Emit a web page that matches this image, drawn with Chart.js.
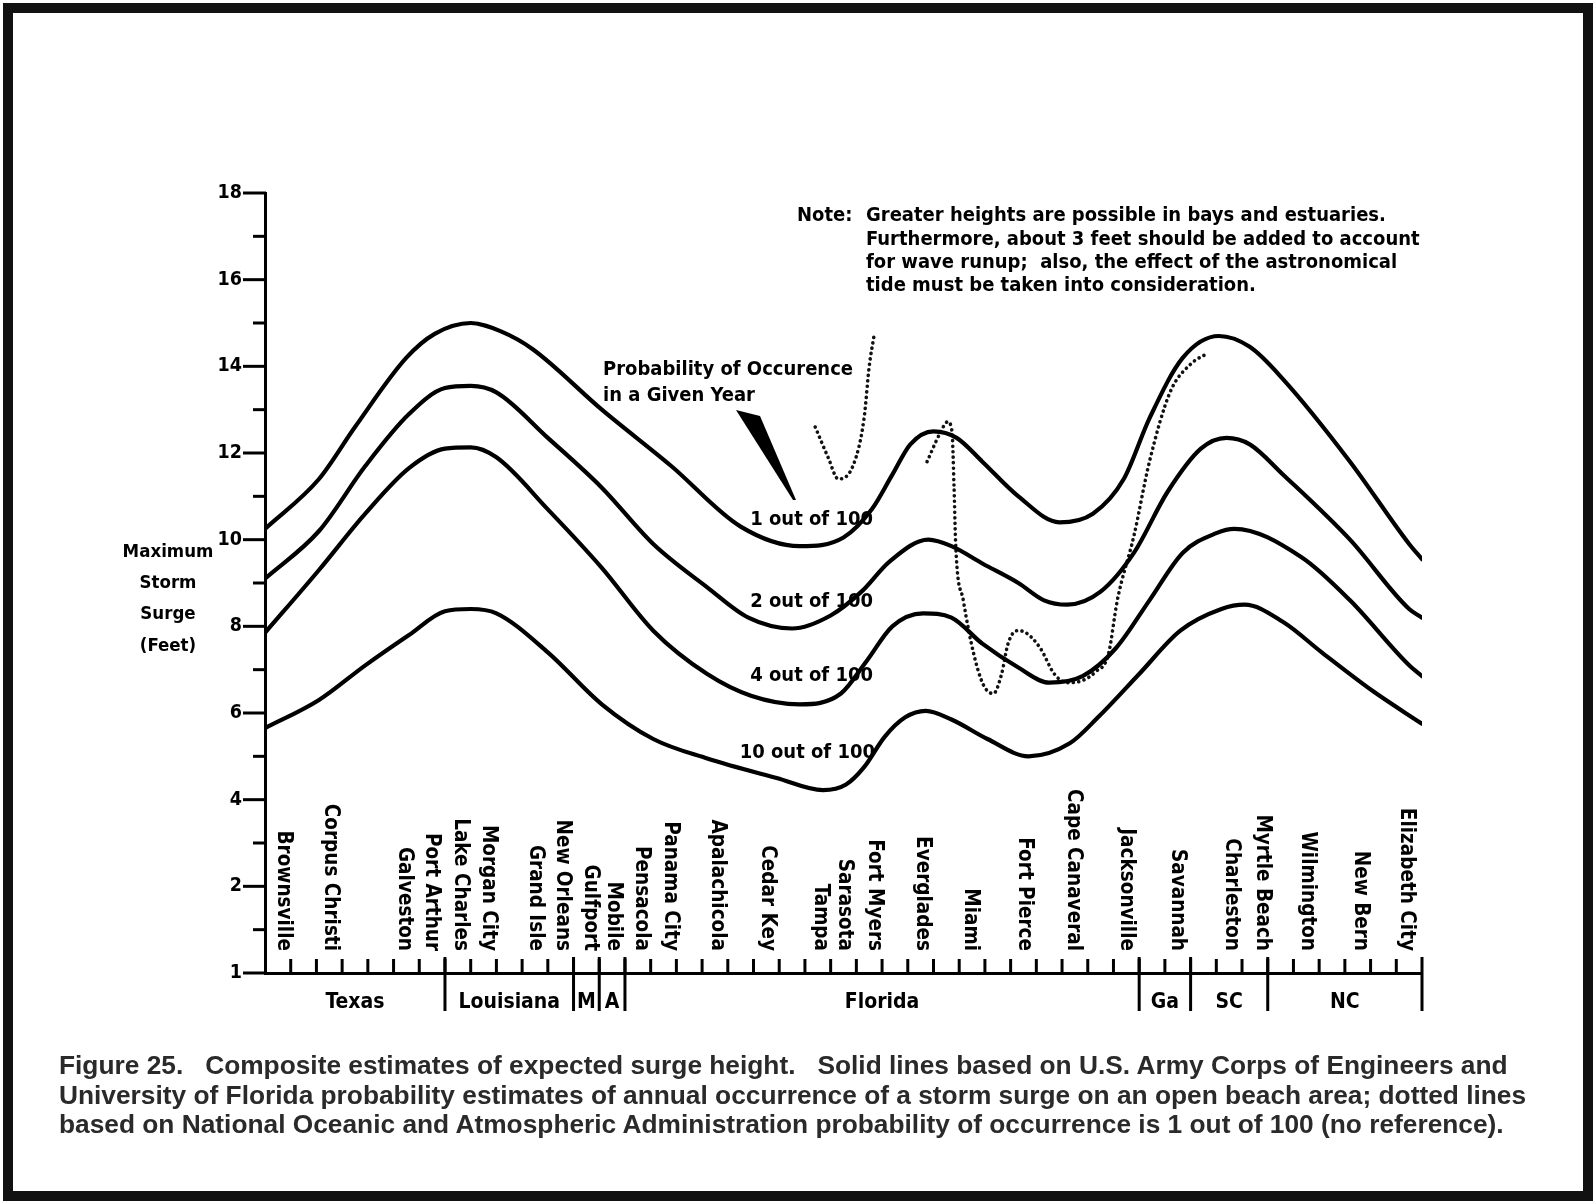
<!DOCTYPE html>
<html><head><meta charset="utf-8">
<script src="https://cdn.jsdelivr.net/npm/chart.js@4.4.1/dist/chart.umd.min.js"></script>
<style>
html,body{margin:0;padding:0;background:#fff;}
#wrap{position:relative;width:1593px;height:1201px;overflow:hidden;background:#fff;}
#frame{position:absolute;left:3px;top:3px;right:0;bottom:0;border:10px solid #111;pointer-events:none;}
#c{position:absolute;left:0;top:0;}
#caption{position:absolute;left:59px;top:1051px;font:bold 26.3px "Liberation Sans",Arial,sans-serif;color:#2a2a2a;line-height:29.5px;white-space:pre;}
</style></head>
<body><div id="wrap"><canvas id="c" width="1593" height="1201"></canvas>
<div id="caption">Figure 25.   Composite estimates of expected surge height.   Solid lines based on U.S. Army Corps of Engineers and
University of Florida probability estimates of annual occurrence of a storm surge on an open beach area; dotted lines
based on National Oceanic and Atmospheric Administration probability of occurrence is 1 out of 100 (no reference).</div>
<div id="frame"></div></div>
<script>
// ---- data ----
const cities = ['Brownsville','Corpus Christi','Galveston','Port Arthur','Lake Charles','Morgan City','Grand Isle','New Orleans','Gulfport','Mobile','Pensacola','Panama City','Apalachicola','Cedar Key','Tampa','Sarasota','Fort Myers','Everglades','Miami','Fort Pierce','Cape Canaveral','Jacksonville','Savannah','Charleston','Myrtle Beach','Wilmington','New Bern','Elizabeth City'];
const cityPos = [0.7, 2.55, 5.4, 6.45, 7.6, 8.7, 10.5, 11.55, 12.65, 13.55, 14.65, 15.75, 17.6, 19.55, 21.6, 22.55, 23.7, 25.55, 27.45, 29.55, 31.45, 33.5, 35.5, 37.6, 38.8, 40.55, 42.6, 44.4];
const states = ['Texas','Louisiana','M','A','Florida','Ga','SC','NC'];
const stateBounds = [0, 7, 12, 13, 14, 34, 36, 39, 45];

const xOne = [0, 2.1, 3.5, 5.5, 6.6, 8.0, 9.2, 10.4, 13.1, 15.8, 18.5, 20.8, 22.5, 23.6, 24.4, 25.1, 26.0, 26.9, 27.9, 29.3, 30.9, 32.2, 33.4, 34.4, 35.7, 37.1, 38.3, 39.6, 42.2, 44.5, 45];
const yOne = [10.25, 11.4, 12.6, 14.2, 14.75, 15.0, 14.8, 14.4, 13.0, 11.7, 10.3, 9.85, 10.05, 10.7, 11.5, 12.2, 12.5, 12.35, 11.8, 11.0, 10.4, 10.6, 11.4, 12.8, 14.2, 14.7, 14.45, 13.7, 11.8, 9.9, 9.55];

const xTwo = [0, 2.1, 3.9, 5.6, 7.0, 8.0, 9.0, 11.0, 13.1, 15.1, 17.2, 18.8, 20.5, 22.0, 23.2, 24.3, 25.8, 26.7, 27.9, 29.3, 30.3, 31.2, 32.5, 33.8, 35.1, 36.4, 37.4, 38.3, 39.6, 42.2, 44.5, 45];
const yTwo = [9.1, 10.2, 11.7, 12.9, 13.5, 13.55, 13.4, 12.35, 11.2, 9.9, 8.9, 8.2, 7.95, 8.25, 8.8, 9.5, 10.0, 9.85, 9.45, 9.0, 8.6, 8.5, 8.8, 9.7, 11.1, 12.1, 12.35, 12.2, 11.5, 10.0, 8.4, 8.2];

const xFour = [0, 2.1, 3.9, 5.6, 7.0, 8.0, 9.0, 11.0, 13.1, 15.1, 17.2, 18.9, 20.8, 22.4, 23.4, 24.4, 25.6, 26.7, 27.9, 29.3, 30.5, 31.8, 33.1, 34.4, 35.7, 37.0, 37.7, 40.3, 42.2, 44.5, 45];
const yFour = [7.85, 9.3, 10.6, 11.65, 12.1, 12.13, 11.9, 10.7, 9.35, 7.9, 6.9, 6.4, 6.2, 6.45, 7.2, 8.0, 8.3, 8.2, 7.6, 7.05, 6.7, 6.85, 7.5, 8.6, 9.7, 10.15, 10.25, 9.6, 8.6, 7.1, 6.85];

const xTen = [0, 2.1, 3.9, 5.6, 7.0, 8.0, 9.0, 11.0, 13.1, 15.1, 17.2, 19.9, 21.7, 22.6, 23.3, 24.1, 24.9, 25.7, 26.7, 28.1, 29.7, 31.3, 32.4, 34.0, 35.6, 37.2, 38.1, 39.6, 41.1, 43.1, 45];
const yTen = [5.65, 6.3, 7.1, 7.8, 8.35, 8.4, 8.3, 7.4, 6.2, 5.4, 4.95, 4.5, 4.22, 4.35, 4.75, 5.45, 5.9, 6.05, 5.85, 5.4, 5.0, 5.3, 5.9, 6.9, 7.9, 8.4, 8.5, 8.1, 7.4, 6.5, 5.75];

const xNoaaA = [21.4, 21.9, 22.3, 22.9, 23.3, 23.5, 23.7];
const yNoaaA = [12.6, 11.9, 11.4, 11.75, 12.8, 14.0, 14.75];
const xNoaaB = [25.75, 26.25, 26.55, 26.72, 26.8, 26.87, 27.16, 27.55, 27.94, 28.33, 28.65, 28.9, 29.25, 29.6, 30.15, 30.7, 31.2, 31.8, 32.3, 32.8, 33.15, 33.8, 34.4, 35.2, 36.0, 36.65];
const yNoaaB = [11.8, 12.45, 12.72, 12.5, 11.2, 9.8, 8.6, 7.4, 6.65, 6.45, 6.9, 7.6, 7.9, 7.85, 7.5, 6.9, 6.7, 6.75, 6.95, 7.35, 8.6, 10.1, 11.8, 13.4, 14.05, 14.3];

const curveLabels = ['1 out of 100', '2 out of 100', '4 out of 100', '10 out of 100'];
const yTickLabelFor = v => v === 0 ? '1' : (v % 2 === 0 ? String(v) : '');

// ---- drawing ----
const FONT = '"DejaVu Sans Condensed","Liberation Sans Narrow","DejaVu Sans",sans-serif';
const pts = (xs, ys) => xs.map((v, i) => ({x: v, y: ys[i]}));
const solid = (label, xs, ys) => ({label, data: pts(xs, ys), borderColor: '#000', borderWidth: 4.2, pointRadius: 0, cubicInterpolationMode: 'monotone', fill: false, borderJoinStyle: 'round', borderCapStyle: 'round'});
const dotted = (label, xs, ys) => ({label, data: pts(xs, ys), borderColor: '#111', borderWidth: 3.6, pointRadius: 0, cubicInterpolationMode: 'monotone', fill: false, borderDash: [0.1, 5.4], borderCapStyle: 'round', borderJoinStyle: 'round'});

function seg(ctx, x1, y1, x2, y2) { ctx.beginPath(); ctx.moveTo(x1, y1); ctx.lineTo(x2, y2); ctx.stroke(); }

const decor = {
  id: 'decor',
  afterDraw(chart) {
    const {ctx, scales: {x, y}, chartArea: ca} = chart;
    const X = v => x.getPixelForValue(v), Y = v => y.getPixelForValue(v);
    ctx.save();
    ctx.strokeStyle = '#000'; ctx.fillStyle = '#000'; ctx.lineWidth = 3; ctx.lineCap = 'butt';
    // y ticks
    for (let v = 0; v <= 18; v++) {
      const len = yTickLabelFor(v) ? 22 : 12;
      seg(ctx, ca.left - len, Y(v), ca.left + 1, Y(v));
    }
    // x ticks (pointing up)
    for (let k = 1; k < 45; k++) seg(ctx, X(k), ca.bottom, X(k), ca.bottom - 14);
    // state separators
    for (let i = 1; i < stateBounds.length; i++) seg(ctx, X(stateBounds[i]), ca.bottom - 16, X(stateBounds[i]), ca.bottom + 38);
    // state names
    ctx.font = 'bold 21px ' + FONT; ctx.textAlign = 'center'; ctx.textBaseline = 'middle';
    for (let i = 0; i < states.length; i++) ctx.fillText(states[i], X((stateBounds[i] + stateBounds[i + 1]) / 2), ca.bottom + 30);
    // city names, rotated clockwise
    ctx.font = 'bold 20.5px ' + FONT; ctx.textAlign = 'right';
    cities.forEach((c, i) => {
      ctx.save(); ctx.translate(X(cityPos[i]), ca.bottom - 22); ctx.rotate(Math.PI / 2);
      ctx.fillText(c, 0, 0); ctx.restore();
    });
    // y axis title
    ctx.font = 'bold 18.5px ' + FONT; ctx.textAlign = 'center';
    ['Maximum', 'Storm', 'Surge', '(Feet)'].forEach((t, i) => ctx.fillText(t, 168, 552 + i * 31.3));
    // curve labels
    ctx.font = 'bold 20px ' + FONT; ctx.textAlign = 'right';
    const ly = [520, 602, 675.5, 753];
    curveLabels.forEach((t, i) => ctx.fillText(t, i === 3 ? 875 : 873, ly[i]));
    // probability text + wedge
    ctx.textAlign = 'left';
    ctx.fillText('Probability of Occurence', 603, 370);
    ctx.fillText('in a Given Year', 603, 396);
    ctx.beginPath(); ctx.moveTo(736, 410); ctx.lineTo(760, 416); ctx.lineTo(796, 500); ctx.lineTo(793, 500); ctx.closePath(); ctx.fill();
    // note
    ctx.font = 'bold 20px ' + FONT;
    ctx.fillText('Note:', 797, 216);
    ['Greater heights are possible in bays and estuaries.',
     'Furthermore, about 3 feet should be added to account',
     'for wave runup;  also, the effect of the astronomical',
     'tide must be taken into consideration.'].forEach((t, i) => ctx.fillText(t, 866, 216 + i * 23.4));
    ctx.restore();
  }
};

new Chart(document.getElementById('c'), {
  type: 'line',
  data: {datasets: [
    solid(curveLabels[0], xOne, yOne),
    solid(curveLabels[1], xTwo, yTwo),
    solid(curveLabels[2], xFour, yFour),
    solid(curveLabels[3], xTen, yTen),
    dotted('NOAA 1 out of 100 (a)', xNoaaA, yNoaaA),
    dotted('NOAA 1 out of 100 (b)', xNoaaB, yNoaaB)
  ]},
  options: {
    responsive: false, animation: false, devicePixelRatio: 1,
    layout: {padding: {left: 0, top: 193, right: 171, bottom: 228}},
    plugins: {legend: {display: false}, tooltip: {enabled: false}},
    scales: {
      x: {type: 'linear', min: 0, max: 45,
          grid: {display: false, drawTicks: false}, ticks: {display: false},
          border: {display: true, color: '#000', width: 3},
          afterFit: s => { s.height = 0; }},
      y: {type: 'linear', min: 0, max: 18,
          grid: {display: false, drawTicks: false},
          border: {display: true, color: '#000', width: 3},
          ticks: {stepSize: 1, autoSkip: false, padding: 23, color: '#000',
                  font: {family: FONT, size: 19.5, weight: 'bold'},
                  callback: v => yTickLabelFor(v)},
          afterFit: s => { s.width = 265; }}
    }
  },
  plugins: [decor]
});
</script>
</body></html>
